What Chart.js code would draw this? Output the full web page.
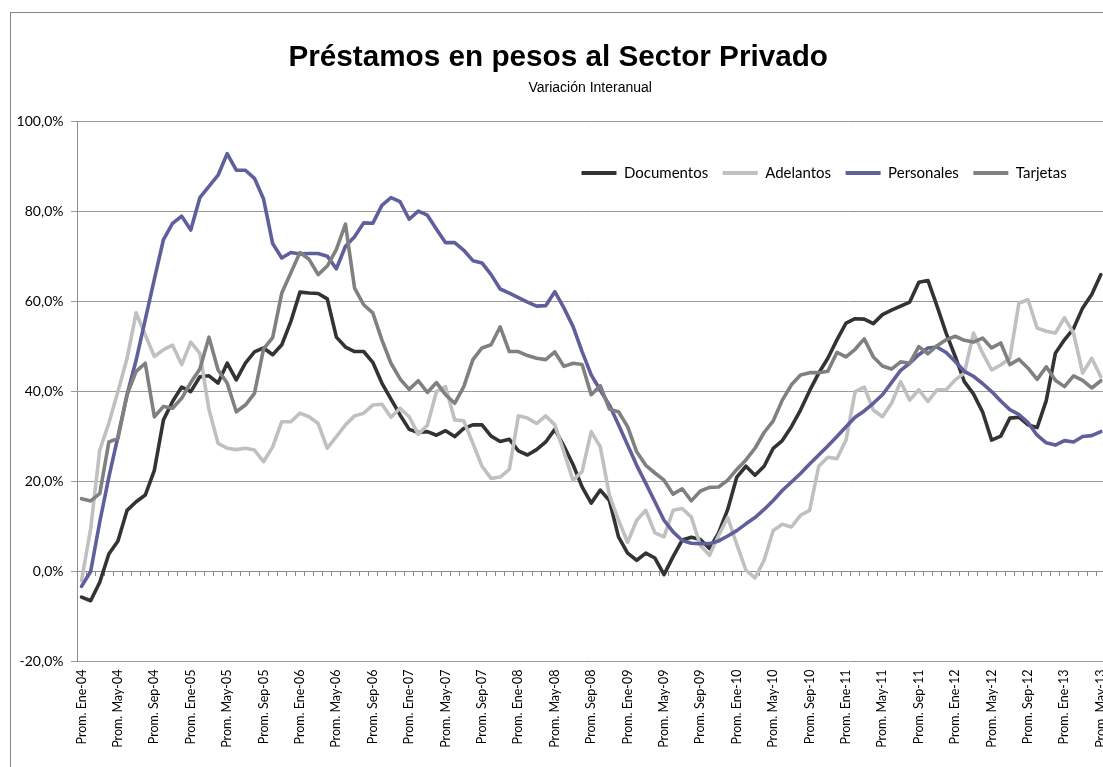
<!DOCTYPE html>
<html lang="es">
<head>
<meta charset="utf-8">
<title>Préstamos en pesos al Sector Privado</title>
<script src="https://cdn.jsdelivr.net/npm/chart.js@4.4.1/dist/chart.umd.min.js"></script>
<style>
  html, body { margin: 0; padding: 0; background: #ffffff; overflow: hidden; }
  #marco {
    position: absolute;
    left: 10px;
    top: 12px;
    width: 1104px;
    height: 800px;
    border: 1px solid #868686;
    background: #ffffff;
  }
</style>
</head>
<body>
<div id="marco">
  <canvas id="grafico" width="1104" height="800"></canvas>
</div>
<script>
// ===============================
// 📦 DATOS
// ===============================
const meses = ["Ene", "Feb", "Mar", "Abr", "May", "Jun", "Jul", "Ago", "Sep", "Oct", "Nov", "Dic"];

// Prom. Ene-04 ... Prom. May-13
const categorias = [];
for (let anio = 4; anio <= 13; anio++) {
  meses.forEach((mes, m) => {
    if (anio === 13 && m > 4) return;
    categorias.push("Prom. " + mes + "-" + String(anio).padStart(2, "0"));
  });
}

// variación interanual, %
const documentos = [
  -5.7, -6.5, -2.4, 3.9, 6.8, 13.6, 15.5, 17.0, 22.5, 33.7, 37.8, 41.0,
  40.0, 43.3, 43.5, 41.9, 46.3, 42.6, 46.3, 48.8, 49.7, 48.2, 50.4, 55.6,
  62.1, 61.9, 61.8, 60.6, 52.1, 49.9, 48.9, 48.9, 46.5, 41.9, 38.3, 34.8,
  31.6, 30.9, 31.1, 30.3, 31.3, 30.0, 31.8, 32.6, 32.6, 30.1, 28.9, 29.4,
  26.8, 25.9, 27.1, 28.8, 31.6, 27.9, 23.8, 18.8, 15.2, 18.1, 15.8, 7.7,
  4.1, 2.5, 4.1, 3.0, -0.7, 3.3, 7.0, 7.6, 7.1, 5.1, 8.6, 13.8,
  21.0, 23.4, 21.4, 23.4, 27.4, 29.1, 32.2, 35.9, 40.2, 44.1, 47.4, 51.5,
  55.2, 56.2, 56.1, 55.1, 57.1, 58.1, 59.0, 59.9, 64.3, 64.7, 59.0, 53.0,
  47.8, 42.2, 39.5, 35.5, 29.2, 30.1, 34.1, 34.3, 32.6, 32.0, 38.0, 48.5,
  51.5, 54.0, 58.6, 61.6, 66.0
];

const adelantos = [
  -2.0, 9.5, 27.0, 33.0, 40.0, 47.4, 57.5, 52.6, 47.8, 49.3, 50.3, 46.0,
  51.0, 48.5, 36.0, 28.5, 27.4, 27.1, 27.4, 27.0, 24.4, 27.7, 33.3, 33.3,
  35.2, 34.4, 32.9, 27.4, 30.0, 32.6, 34.6, 35.2, 37.0, 37.2, 34.3, 36.3,
  34.4, 30.5, 32.5, 40.0, 41.1, 33.7, 33.5, 28.5, 23.4, 20.7, 21.0, 22.7,
  34.6, 34.1, 32.9, 34.6, 32.6, 26.6, 20.3, 22.2, 31.1, 27.7, 17.0, 11.4,
  6.5, 11.4, 13.6, 8.6, 7.7, 13.6, 14.0, 12.1, 5.8, 3.6, 8.0, 12.0,
  6.0, 0.3, -1.4, 2.5, 9.1, 10.5, 9.9, 12.5, 13.6, 23.4, 25.4, 25.1,
  29.2, 40.0, 41.0, 35.9, 34.4, 37.4, 42.2, 38.1, 40.4, 37.8, 40.4, 40.4,
  42.6, 44.1, 53.0, 48.6, 44.8, 45.9, 47.4, 59.7, 60.4, 54.1, 53.4, 53.0,
  56.4, 53.0, 44.1, 47.4, 43.3
];

const personales = [
  -3.3, 0.0, 11.0, 21.0, 30.0, 39.3, 47.0, 56.0, 65.0, 73.8, 77.4, 79.0,
  75.9, 83.1, 85.6, 88.1, 92.9, 89.2, 89.2, 87.4, 82.8, 72.9, 69.7, 70.9,
  70.6, 70.7, 70.7, 70.1, 67.3, 72.3, 74.4, 77.5, 77.4, 81.4, 83.1, 82.2,
  78.3, 80.1, 79.2, 76.1, 73.1, 73.1, 71.4, 69.1, 68.6, 66.0, 62.8, 61.9,
  60.9, 59.9, 59.0, 59.1, 62.2, 58.6, 54.5, 48.9, 43.7, 40.3, 37.0, 32.6,
  28.1, 23.6, 19.6, 15.5, 11.4, 8.8, 6.9, 6.3, 6.2, 6.2, 6.8, 7.9,
  9.1, 10.6, 12.0, 13.8, 15.8, 18.0, 19.9, 21.8, 23.9, 25.9, 27.9, 30.0,
  32.2, 34.3, 35.7, 37.4, 39.3, 42.0, 44.7, 46.3, 48.2, 49.7, 49.9, 48.7,
  46.7, 44.5, 43.4, 41.8, 40.0, 37.9, 36.0, 34.9, 33.1, 30.3, 28.6, 28.1,
  29.1, 28.8, 30.0, 30.2, 31.1
];

const tarjetas = [
  16.2, 15.7, 17.3, 28.8, 29.6, 39.3, 44.5, 46.3, 34.4, 36.7, 36.3, 38.5,
  42.0, 45.0, 52.1, 44.8, 41.9, 35.5, 37.0, 39.6, 49.5, 52.0, 61.9, 66.4,
  70.9, 69.4, 66.0, 67.9, 71.6, 77.2, 63.0, 59.3, 57.5, 51.5, 46.3, 42.8,
  40.5, 42.4, 39.8, 42.0, 39.3, 37.4, 41.1, 47.1, 49.7, 50.4, 54.4, 48.9,
  48.9, 48.0, 47.4, 47.1, 48.8, 45.6, 46.3, 46.0, 39.3, 41.3, 36.1, 35.5,
  32.2, 26.6, 23.6, 21.9, 20.3, 17.2, 18.4, 15.7, 17.9, 18.7, 18.8, 20.3,
  22.7, 24.8, 27.4, 30.9, 33.5, 38.1, 41.5, 43.7, 44.2, 44.2, 44.5, 48.7,
  47.7, 49.4, 51.7, 47.7, 45.7, 45.0, 46.6, 46.3, 50.0, 48.4, 50.2, 51.5,
  52.3, 51.4, 51.0, 51.9, 49.7, 50.8, 46.0, 47.2, 45.2, 42.7, 45.5, 42.5,
  41.1, 43.5, 42.5, 40.8, 42.4
];

// eje Y: -20% a 100%
const ejeMin = -20;
const ejeMax = 100;
const ejePaso = 20;

// ===============================
// 💬 FORMATO
// ===============================
function formatoPorcentaje(valor) {
  return valor.toFixed(1).replace(".", ",") + "%";
}

// ===============================
// 🏷️ LEYENDA Y SUBTÍTULO EN SU LUGAR
// ===============================
const acomodarCajas = {
  id: "acomodarCajas",
  afterLayout(chart) {
    const leyenda = chart.legend;
    if (leyenda) {
      const alto = leyenda.height;
      leyenda.left = 556;
      leyenda.right = 1094;
      leyenda.top = 138;
      leyenda.bottom = leyenda.top + alto;
    }
    // el subtítulo va un poco corrido a la derecha
    const titulo = chart.titleBlock;
    chart.boxes.forEach(caja => {
      if (titulo && caja !== titulo && caja.constructor === titulo.constructor) {
        caja.left += 32;
        caja.right += 32;
      }
    });
  }
};

// ===============================
// 📊 GRÁFICO
// ===============================
const gris = "#8c8c8c";
const fuente = "Lato, 'Open Sans', sans-serif";

function serie(nombre, datos, color, orden) {
  return {
    label: nombre,
    data: datos,
    borderColor: color,
    backgroundColor: color,
    borderWidth: 3.6,
    pointRadius: 0,
    pointHoverRadius: 0,
    tension: 0,
    borderJoinStyle: "round",
    borderCapStyle: "round",
    order: orden
  };
}

const ctx = document.getElementById("grafico").getContext("2d");

const chart = new Chart(ctx, {
  type: "line",
  data: {
    labels: categorias,
    datasets: [
      serie("Documentos", documentos, "#333333", 3),
      serie("Adelantos", adelantos, "#c0c0c0", 2),
      serie("Personales", personales, "#5f5f9c", 1),
      serie("Tarjetas", tarjetas, "#808080", 0)
    ]
  },
  options: {
    responsive: false,
    animation: false,
    devicePixelRatio: 1,
    layout: {
      padding: { left: 0, right: 9.6, top: 0, bottom: 0 }
    },
    plugins: {
      title: {
        display: true,
        text: "Préstamos en pesos al Sector Privado",
        color: "#000000",
        font: { family: "'Liberation Sans', Arial, sans-serif", size: 29.7, weight: "bold" },
        padding: { top: 27.2, bottom: 0 }
      },
      subtitle: {
        display: true,
        text: "Variación Interanual",
        color: "#000000",
        font: { family: "'Liberation Sans', Arial, sans-serif", size: 14 },
        padding: { top: 4, bottom: 25 }
      },
      legend: {
        display: true,
        position: "bottom",
        align: "start",
        labels: {
          color: "#000000",
          font: { family: fuente, size: 15 },
          boxWidth: 35,
          boxHeight: 4,
          padding: 14.5,
          sort: (a, b) => a.datasetIndex - b.datasetIndex,
          generateLabels(chart) {
            const base = Chart.defaults.plugins.legend.labels.generateLabels(chart);
            return base.map(item => Object.assign(item, { lineWidth: 0 }));
          }
        }
      },
      tooltip: { enabled: false }
    },
    scales: {
      x: {
        type: "category",
        offset: true,
        grid: { display: false, drawTicks: false },
        border: { display: false },
        ticks: {
          autoSkip: false,
          maxRotation: 90,
          minRotation: 90,
          padding: 8,
          color: "#000000",
          font: { family: fuente, size: 12.5 },
          callback(valor, indice) {
            return indice % 4 === 0 ? this.getLabelForValue(valor) : "";
          }
        },
        afterFit(scale) {
          const leyenda = scale.chart.legend ? scale.chart.legend.height : 0;
          scale.height = 800 - 648.5 - leyenda;
          // el gráfico sigue más allá del borde derecho
          scale.paddingLeft = 0;
          scale.paddingRight = 0;
        }
      },
      // marcas de cada mes sobre la línea del 0%
      xMarcas: {
        axis: "x",
        type: "category",
        offset: true,
        position: { y: 0 },
        grid: {
          drawOnChartArea: false,
          drawTicks: true,
          tickLength: 4,
          offset: true,
          color: gris
        },
        border: { display: true, color: gris },
        ticks: { display: false }
      },
      y: {
        min: ejeMin,
        max: ejeMax,
        ticks: {
          stepSize: ejePaso,
          padding: 7.5,
          color: "#000000",
          font: { family: fuente, size: 14 },
          callback: (valor) => formatoPorcentaje(valor)
        },
        grid: { color: "#9a9a9a", tickLength: 6 },
        border: { display: true, color: gris },
        afterFit(scale) {
          scale.width = 66;
        }
      }
    }
  },
  plugins: [acomodarCajas]
});
</script>
</body>
</html>
